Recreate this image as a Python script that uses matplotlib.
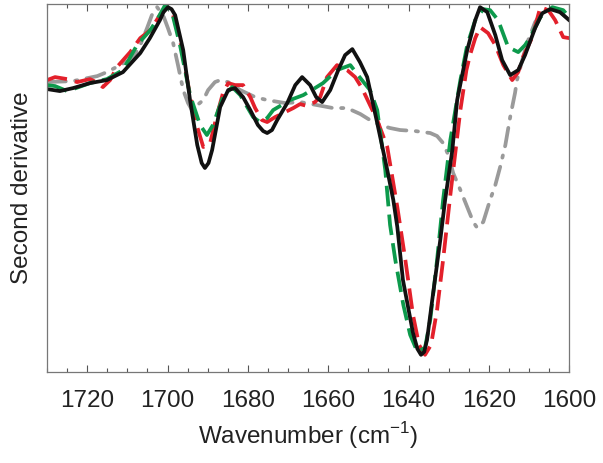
import numpy as np
import matplotlib
matplotlib.use("Agg")
import matplotlib.pyplot as plt
from matplotlib.ticker import MultipleLocator

# wavenumber (cm-1) / second derivative (a.u.)
wn_black = [1730.0, 1726.8, 1723.5, 1719.3, 1715.1, 1711.1, 1706.8, 1704.4, 1701.9, 1701.0,
            1699.9, 1699.0, 1698.1, 1696.1, 1694.4, 1692.6, 1691.5, 1690.7, 1689.8, 1688.9,
            1686.9, 1684.9, 1683.2, 1681.2, 1679.4, 1677.5, 1676.2, 1675.2, 1674.0, 1672.7,
            1670.2, 1668.2, 1666.5, 1664.5, 1663.0, 1661.5, 1659.5, 1657.5, 1655.8, 1654.0,
            1652.1, 1650.3, 1647.8, 1645.3, 1643.8, 1642.8, 1641.4, 1638.9, 1637.8, 1636.9,
            1636.1, 1635.4, 1634.1, 1632.1, 1630.9, 1629.1, 1627.9, 1625.4, 1623.4, 1622.2,
            1620.4, 1618.4, 1616.7, 1614.7, 1612.7, 1611.0, 1608.5, 1606.7, 1604.7, 1602.3,
            1600.0]
d2_black = [0.01, -0.01, 0.02, 0.07, 0.10, 0.18, 0.37, 0.52, 0.70, 0.78,
            0.83, 0.81, 0.75, 0.40, -0.10, -0.55, -0.73, -0.78, -0.73, -0.60,
            -0.17, 0.00, 0.02, -0.07, -0.20, -0.35, -0.41, -0.43, -0.40, -0.30,
            -0.13, 0.05, 0.13, 0.05, -0.07, -0.12, 0.00, 0.20, 0.35, 0.41,
            0.28, 0.13, -0.33, -0.80, -1.10, -1.37, -1.90, -2.43, -2.59, -2.65,
            -2.62, -2.50, -2.10, -1.50, -1.10, -0.60, -0.10, 0.40, 0.70, 0.83,
            0.78, 0.55, 0.30, 0.15, 0.20, 0.35, 0.62, 0.77, 0.81, 0.78,
            0.70]

wn_red = [1730.0, 1728.0, 1725.0, 1722.5, 1719.3, 1717.3, 1716.1, 1714.3, 1712.6, 1709.3,
          1706.8, 1704.3, 1701.9, 1700.1, 1698.6, 1696.9, 1694.4, 1692.6, 1691.1, 1689.4,
          1687.7, 1686.2, 1684.9, 1683.2, 1681.2, 1679.4, 1678.2, 1676.5, 1675.2, 1673.2,
          1670.7, 1668.7, 1667.0, 1665.2, 1663.3, 1662.0, 1660.3, 1657.8, 1655.3, 1653.3,
          1651.6, 1649.6, 1647.8, 1645.3, 1642.8, 1640.8, 1638.9, 1637.4, 1635.9, 1634.4,
          1632.9, 1631.4, 1629.6, 1627.1, 1625.6, 1624.7, 1623.4, 1622.2, 1620.2, 1618.4,
          1616.4, 1614.2, 1612.7, 1611.5, 1609.2, 1607.2, 1605.2, 1603.5, 1601.5, 1600.0]
d2_red = [0.10, 0.13, 0.11, 0.08, 0.11, 0.07, 0.03, 0.10, 0.23, 0.38,
          0.52, 0.60, 0.75, 0.83, 0.75, 0.50, -0.05, -0.37, -0.57, -0.53,
          -0.25, -0.03, 0.07, 0.05, 0.05, -0.07, -0.18, -0.30, -0.32, -0.27,
          -0.22, -0.18, -0.14, -0.16, -0.12, -0.07, 0.13, 0.25, 0.20, 0.13,
          0.02, -0.15, -0.30, -0.57, -1.17, -1.70, -2.25, -2.55, -2.65, -2.55,
          -2.20, -1.70, -1.05, -0.20, 0.20, 0.35, 0.52, 0.63, 0.57, 0.45,
          0.25, 0.10, 0.18, 0.33, 0.53, 0.83, 0.80, 0.70, 0.53, 0.52]

wn_green = [1730.0, 1728.0, 1726.8, 1725.0, 1723.5, 1719.3, 1715.1, 1711.1, 1707.6, 1704.3,
            1702.4, 1700.6, 1698.9, 1696.9, 1694.4, 1691.9, 1690.2, 1688.7, 1686.2, 1683.9,
            1681.9, 1678.7, 1677.0, 1675.2, 1673.7, 1669.5, 1666.2, 1663.3, 1661.3, 1657.8,
            1654.5, 1652.0, 1649.6, 1647.8, 1645.8, 1644.6, 1643.3, 1641.3, 1639.6, 1637.8,
            1635.9, 1634.6, 1632.9, 1631.4, 1629.6, 1627.1, 1625.4, 1623.4, 1621.4, 1619.7,
            1617.7, 1615.2, 1612.7, 1611.0, 1609.7, 1607.2, 1604.2, 1601.5, 1600.0]
d2_green = [0.05, 0.04, 0.02, -0.01, 0.01, 0.07, 0.11, 0.20, 0.45, 0.60,
            0.72, 0.85, 0.78, 0.45, -0.05, -0.35, -0.45, -0.35, -0.07, 0.03,
            -0.05, -0.27, -0.32, -0.28, -0.20, -0.10, -0.05, 0.02, 0.07, 0.20,
            0.25, 0.12, 0.00, -0.20, -0.80, -1.35, -1.70, -2.15, -2.45, -2.62,
            -2.58, -2.30, -1.70, -1.10, -0.50, 0.10, 0.45, 0.70, 0.81, 0.80,
            0.70, 0.43, 0.38, 0.45, 0.53, 0.73, 0.83, 0.80, 0.73]

wn_gray = [1730.0, 1723.5, 1717.5, 1715.1, 1711.8, 1708.6, 1706.8, 1705.1, 1703.9, 1702.6,
           1701.1, 1699.9, 1698.6, 1697.4, 1696.1, 1694.9, 1693.9, 1692.6, 1691.1, 1689.9,
           1688.2, 1686.9, 1684.9, 1681.9, 1678.2, 1675.2, 1670.7, 1667.0, 1662.8, 1658.8,
           1655.3, 1652.0, 1649.6, 1647.1, 1644.6, 1642.1, 1638.4, 1634.6, 1632.9, 1631.4,
           1630.1, 1628.9, 1627.1, 1625.4, 1623.9, 1622.9, 1621.4, 1619.7, 1618.4, 1617.2,
           1615.9, 1614.7, 1613.5, 1613.0, 1611.7, 1610.5, 1608.5, 1606.7, 1604.7, 1602.2,
           1600.0]
d2_gray = [0.08, 0.09, 0.14, 0.18, 0.25, 0.32, 0.45, 0.62, 0.75, 0.83,
           0.75, 0.62, 0.47, 0.25, 0.00, -0.13, -0.20, -0.15, -0.10, 0.00,
           0.08, 0.10, 0.08, 0.00, -0.07, -0.10, -0.13, -0.12, -0.15, -0.18,
           -0.18, -0.24, -0.30, -0.35, -0.38, -0.40, -0.41, -0.43, -0.46, -0.53,
           -0.65, -0.83, -1.00, -1.17, -1.32, -1.38, -1.32, -1.10, -0.95, -0.77,
           -0.55, -0.27, -0.03, 0.10, 0.30, 0.47, 0.68, 0.78, 0.81, 0.78,
           0.70]

xticks = [1720, 1700, 1680, 1660, 1640, 1620, 1600]

plt.rcParams['font.family'] = ['Liberation Sans', 'DejaVu Sans']

fig = plt.figure(figsize=(6.03, 4.63), dpi=100)
ax = fig.add_axes([0.078, 0.197, 0.866, 0.794])

lw = 2.7
ax.plot(wn_gray, d2_gray, color='#9a9a9a', lw=lw, dashes=(5, 2.5, 0.6, 2.5), solid_capstyle='round', dash_capstyle='round')
ax.plot(wn_red, d2_red, color='#e3202b', lw=lw, dashes=(5.5, 2.2))
ax.plot(wn_green, d2_green, color='#0d9a4c', lw=lw, dashes=(5.5, 2.2))
ax.plot(wn_black, d2_black, color='#111111', lw=lw, solid_joinstyle='round')

ax.set_xlim(1730, 1600)
ax.set_ylim(-2.82, 0.86)
ax.set_xticks(xticks)
ax.xaxis.set_minor_locator(MultipleLocator(5))
ax.tick_params(axis='x', which='both', direction='in', top=True, labelsize=17.5, pad=13, colors='#555555', labelcolor='#222222')
ax.tick_params(axis='x', which='major', length=5, width=0.8)
ax.tick_params(axis='x', which='minor', length=3, width=0.8)
ax.set_yticks([])
for s in ax.spines.values():
    s.set_color('#777777')
    s.set_linewidth(0.9)

ax.set_xlabel("Wavenumber (cm$^{\\mathregular{-1}}$)", fontsize=17.5, color='#222222', labelpad=6)
ax.set_ylabel("Second derivative", fontsize=17.5, color='#222222', labelpad=10)

fig.savefig("out.png", dpi=100)
